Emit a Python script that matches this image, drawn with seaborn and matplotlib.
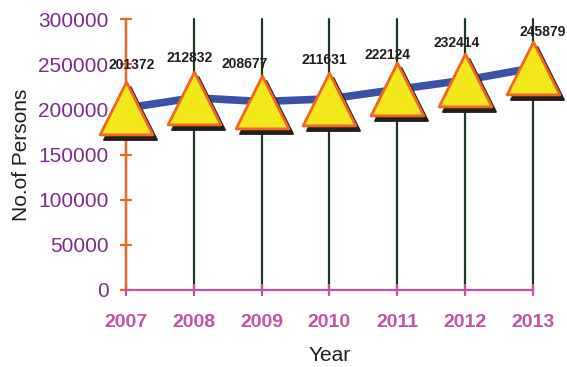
import matplotlib
matplotlib.use("Agg")
import matplotlib.pyplot as plt
import matplotlib.transforms as mtransforms
import seaborn as sns
import pandas as pd

# Data
years = [2007, 2008, 2009, 2010, 2011, 2012, 2013]
persons = [201372, 212832, 208677, 211631, 222124, 232414, 245879]
y_ticks = [0, 50000, 100000, 150000, 200000, 250000, 300000]

# label offsets (points) for value labels
label_dx = [4, -3, -12, -4, -7, -6, 7]
label_dy = [31, 29, 27, 28, 25, 27, 26]

df = pd.DataFrame({"Year": years, "Persons": persons})

sns.set_style("white")
plt.rcParams["font.family"] = ["Liberation Sans", "DejaVu Sans"]

fig = plt.figure(figsize=(5.67, 3.67), dpi=100)
ax = fig.add_axes([0.222, 0.21, 0.718, 0.738])

# blue line
sns.lineplot(data=df, x="Year", y="Persons", ax=ax, color="#3a53a6",
             linewidth=5.5, zorder=3)

# shadow triangles
sns.scatterplot(data=df, x="Year", y="Persons", ax=ax, marker="^",
                s=38 ** 2, color="#231f20", edgecolor="#231f20",
                linewidth=1.5, zorder=4, clip_on=False, legend=False)
shadow = ax.collections[-1]
shadow.set_offset_transform(
    mtransforms.offset_copy(ax.transData, fig=fig, x=4, y=-5, units="dots"))

# yellow triangles
sns.scatterplot(data=df, x="Year", y="Persons", ax=ax, marker="^",
                s=38 ** 2, color="#f2e81b", edgecolor="#f26522",
                linewidth=2, zorder=5, clip_on=False, legend=False)

# value labels
for x, y, dx, dy in zip(years, persons, label_dx, label_dy):
    ax.annotate(str(y), (x, y), xytext=(dx, dy), textcoords="offset points",
                ha="center", va="center", fontsize=10, fontweight="bold",
                color="#231f20", zorder=6)

ax.set_xlim(2007, 2013)
ax.set_ylim(0, 300000)
ax.set_xticks(years)
ax.set_yticks(y_ticks)

# vertical grid
ax.grid(axis="x", color="#1c3a20", linewidth=1.6, zorder=1)
ax.grid(axis="y", visible=False)
ax.set_axisbelow(True)
for gl in ax.get_xgridlines():
    gl.set_clip_on(False)

sns.despine(ax=ax, top=True, right=True)
ax.spines["left"].set_color("#f26522")
ax.spines["left"].set_linewidth(1.6)
ax.spines["bottom"].set_color("#c155a6")
ax.spines["bottom"].set_linewidth(1.6)
ax.spines["left"].set_zorder(2)
ax.spines["bottom"].set_zorder(2)

ax.tick_params(axis="y", left=True, direction="inout", length=9, width=1.6,
               color="#f26522", labelcolor="#7b2c8c", labelsize=15, pad=8)
ax.tick_params(axis="x", bottom=True, direction="inout", length=8, width=1.6,
               color="#c155a6", labelcolor="#c155a6", labelsize=14, pad=13)
for lbl in ax.get_xticklabels():
    lbl.set_fontweight("bold")

ax.set_xlabel("Year", fontsize=15, color="#231f20", labelpad=11)
ax.set_ylabel("No.of Persons", fontsize=15, color="#231f20", labelpad=5)

fig.savefig("out.png", dpi=100)
